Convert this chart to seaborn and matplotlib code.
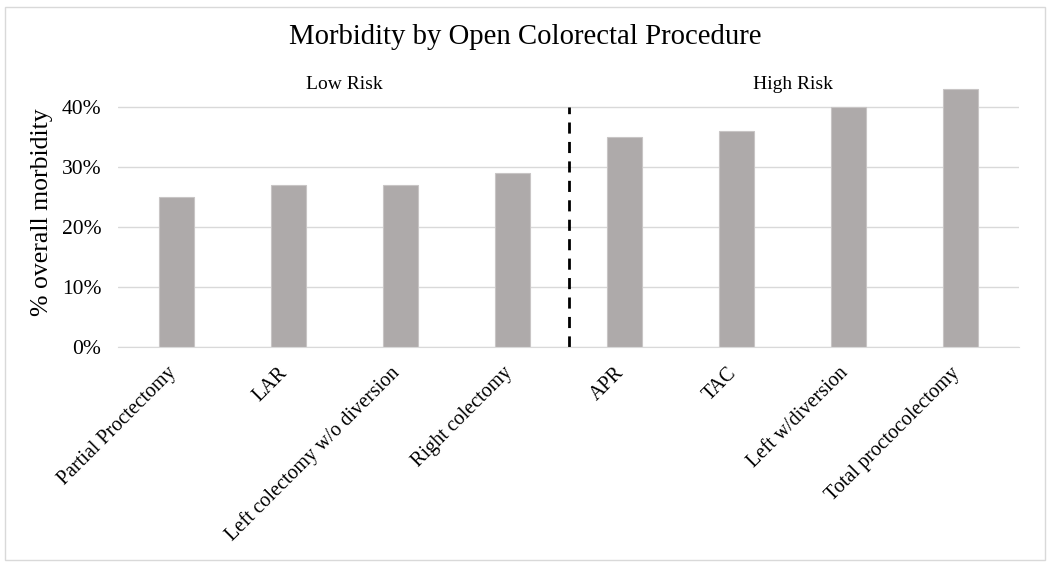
import pandas as pd
import matplotlib.pyplot as plt
import seaborn as sns
from matplotlib.patches import Rectangle

# data
procedures = ["Partial Proctectomy", "LAR", "Left colectomy w/o diversion",
              "Right colectomy", "APR", "TAC", "Left w/diversion",
              "Total proctocolectomy"]
morbidity = [25, 27, 27, 29, 35, 36, 40, 43]
risk_groups = ["Low Risk", "High Risk"]

df = pd.DataFrame({"procedure": procedures, "morbidity": morbidity})

sns.set_style("white")
plt.rcParams["font.family"] = ["Liberation Serif", "DejaVu Serif"]
plt.rcParams["text.color"] = "black"

fig = plt.figure(figsize=(10.5, 5.68), dpi=100)
ax = fig.add_axes([118 / 1050, 1 - 347 / 568, 901 / 1050, 270 / 568])

sns.barplot(data=df, x="procedure", y="morbidity", color="#AEAAAA",
            width=0.31, edgecolor="#C8C5C5", linewidth=0.8, saturation=1, ax=ax)

ax.set_ylim(0, 45)
ax.set_yticks([0, 10, 20, 30, 40])
ax.set_yticklabels([f"{v}%" for v in [0, 10, 20, 30, 40]], fontsize=15.5, color="black")
ax.yaxis.grid(True, color="#D9D9D9", linewidth=1)
ax.set_axisbelow(True)
for s in ["top", "right", "left"]:
    ax.spines[s].set_visible(False)
ax.spines["bottom"].set_color("#D9D9D9")
ax.tick_params(axis="y", length=0, pad=12)
ax.tick_params(axis="x", length=0, pad=19)
ax.set_xticks(range(len(procedures)))
ax.set_xticklabels(procedures, rotation=45, ha="right", va="baseline",
                   rotation_mode="anchor", fontsize=14.5, color="black")
ax.set_xlabel("")
ax.set_ylabel("% overall morbidity", fontsize=18.5, color="black", labelpad=6)

# divider between risk groups
ax.plot([3.5, 3.5], [0, 40], color="black", linestyle=(0, (4, 3)), linewidth=2)
ax.text(1.5, 43.8, risk_groups[0], ha="center", va="center", fontsize=14, color="black")
ax.text(5.5, 43.8, risk_groups[1], ha="center", va="center", fontsize=14, color="black")

fig.text(0.5, 1 - 37 / 568, "Morbidity by Open Colorectal Procedure",
         ha="center", va="center", fontsize=20.7, color="black")

fig.patches.append(Rectangle((5 / 1050, 1 - 560 / 568), 1040 / 1050, 553 / 568,
                             transform=fig.transFigure, fill=False,
                             edgecolor="#D9D9D9", linewidth=1))

fig.savefig("out.png", dpi=100)
